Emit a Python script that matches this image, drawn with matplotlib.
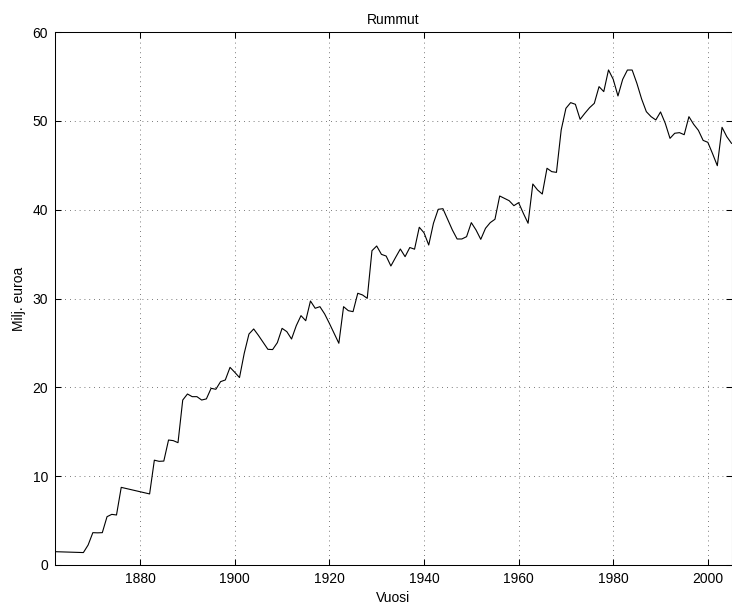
import matplotlib
matplotlib.use("Agg")
import matplotlib.pyplot as plt

years = [1862, 1868, 1869, 1870, 1871, 1872, 1873, 1874, 1875, 1876,
         1882, 1883, 1884, 1885, 1886, 1887, 1888, 1889, 1890, 1891,
         1892, 1893, 1894, 1895, 1896, 1897, 1898, 1899, 1900, 1901,
         1902, 1903, 1904, 1905, 1906, 1907, 1908, 1909, 1910, 1911,
         1912, 1913, 1914, 1915, 1916, 1917, 1918, 1919, 1920, 1921,
         1922, 1923, 1924, 1925, 1926, 1927, 1928, 1929, 1930, 1931,
         1932, 1933, 1934, 1935, 1936, 1937, 1938, 1939, 1940, 1941,
         1942, 1943, 1944, 1945, 1946, 1947, 1948, 1949, 1950, 1951,
         1952, 1953, 1954, 1955, 1956, 1957, 1958, 1959, 1960, 1961,
         1962, 1963, 1964, 1965, 1966, 1967, 1968, 1969, 1970, 1971,
         1972, 1973, 1974, 1975, 1976, 1977, 1978, 1979, 1980, 1981,
         1982, 1983, 1984, 1985, 1986, 1987, 1988, 1989, 1990, 1991,
         1992, 1993, 1994, 1995, 1996, 1997, 1998, 1999, 2000, 2001,
         2002, 2003, 2004, 2005]
values = [1.5, 1.4, 2.25, 3.64, 3.62, 3.64, 5.44, 5.7, 5.63, 8.74,
          8.0, 11.8, 11.67, 11.7, 14.07, 14.0, 13.77, 18.57, 19.25, 18.95,
          18.95, 18.57, 18.7, 19.89, 19.78, 20.64, 20.83, 22.25, 21.69, 21.1,
          23.83, 26.0, 26.57, 25.85, 25.07, 24.28, 24.25, 25.03, 26.64, 26.27,
          25.44, 26.94, 28.07, 27.5, 29.72, 28.9, 29.08, 28.26, 27.2, 26.08,
          24.96, 29.08, 28.63, 28.52, 30.59, 30.4, 30.02, 35.38, 35.91, 34.97,
          34.78, 33.66, 34.63, 35.57, 34.71, 35.74, 35.55, 38.02, 37.4, 36.02,
          38.47, 40.04, 40.11, 38.92, 37.71, 36.7, 36.7, 36.96, 38.54, 37.71,
          36.66, 37.9, 38.54, 38.92, 41.54, 41.28, 41.01, 40.45, 40.79, 39.59,
          38.47, 42.89, 42.22, 41.76, 44.66, 44.28, 44.2, 48.97, 51.41, 52.05,
          51.86, 50.17, 50.85, 51.48, 51.97, 53.85, 53.29, 55.73, 54.67, 52.8,
          54.67, 55.72, 55.72, 54.22, 52.46, 51.03, 50.47, 50.1, 51.0, 49.72,
          48.03, 48.6, 48.67, 48.44, 50.47, 49.61, 48.93, 47.8, 47.58, 46.3,
          44.95, 49.27, 48.22, 47.47]

xticks = [1880, 1900, 1920, 1940, 1960, 1980, 2000]
yticks = [0, 10, 20, 30, 40, 50, 60]

plt.rcParams['font.family'] = ['Liberation Sans', 'DejaVu Sans']

fig = plt.figure(figsize=(7.32, 6.09), dpi=100)
ax = fig.add_axes([55/732, 1 - 565/609, 676.5/732, (565 - 32)/609])

ax.plot(years, values, color='black', lw=0.8)

ax.set_xlim(1862, 2005)
ax.set_ylim(0, 60)
ax.set_xticks(xticks)
ax.set_yticks(yticks)
ax.grid(True, color='0.3', linestyle=(0, (1, 4.8)), linewidth=0.6)
ax.tick_params(direction='in', length=4.5, width=0.75, top=True, right=True,
               labelsize=10, pad=5, colors='black')
for s in ax.spines.values():
    s.set_linewidth(0.75)
    s.set_color('black')

ax.set_title('Rummut', fontsize=10, pad=5.5)
ax.set_xlabel('Vuosi', fontsize=10, labelpad=4)
ax.set_ylabel('Milj. euroa', fontsize=10, labelpad=4.5)

fig.savefig('out.png', dpi=100)
